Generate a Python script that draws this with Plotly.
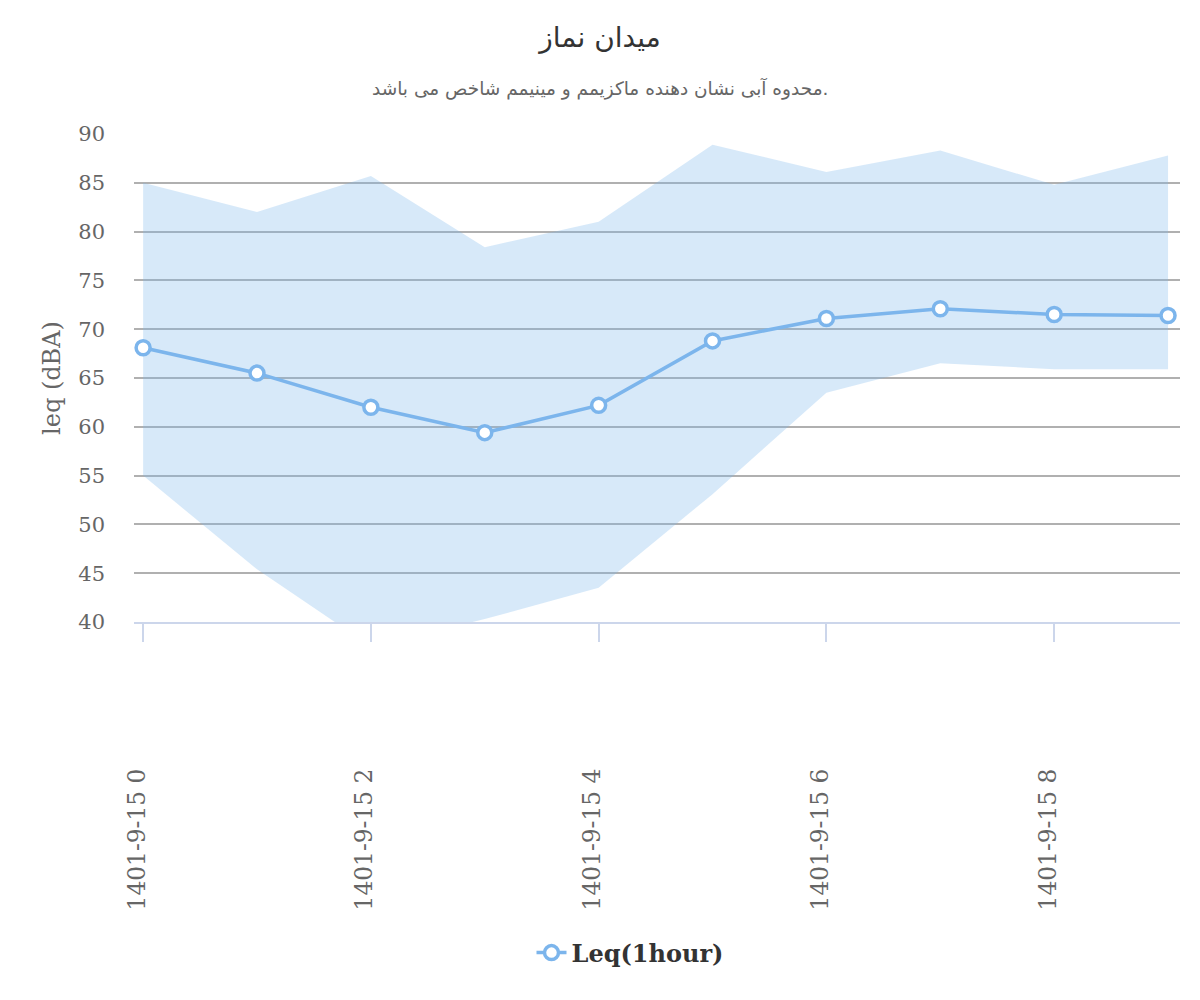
import plotly.graph_objects as go

hours = [0, 1, 2, 3, 4, 5, 6, 7, 8, 9]
leq_values = [68.1, 65.5, 62.0, 59.4, 62.2, 68.8, 71.1, 72.1, 71.5, 71.4]
max_values = [85.0, 82.0, 85.7, 78.4, 81.0, 88.9, 86.1, 88.3, 84.8, 87.8]
min_values = [55.0, 45.4, 37.5, 40.3, 43.5, 53.1, 63.5, 66.5, 65.9, 65.9]
tick_positions = [0, 2, 4, 6, 8]
tick_labels = ["1401-9-15 0", "1401-9-15 2", "1401-9-15 4", "1401-9-15 6", "1401-9-15 8"]

title_text = "میدان نماز"
subtitle_text = "محدوه آبی نشان دهنده ماکزیمم و مینیمم شاخص می باشد."
series_name = "Leq(1hour)"
y_title = "leq (dBA)"

serif = "DejaVu Serif"
sans = "DejaVu Sans"

x_range = [-0.08, 9.105]
label_shift = 0.053  # tick labels sit slightly left of their ticks

fig = go.Figure()

fig.add_trace(go.Scatter(
    x=hours, y=max_values, mode="lines",
    line=dict(width=0, color="rgba(124,181,236,0)"),
    showlegend=False, hoverinfo="skip",
))
fig.add_trace(go.Scatter(
    x=hours, y=min_values, mode="lines",
    line=dict(width=0, color="rgba(124,181,236,0)"),
    fill="tonexty", fillcolor="rgba(124,181,236,0.3)",
    showlegend=False, hoverinfo="skip",
))
fig.add_trace(go.Scatter(
    x=hours, y=leq_values, mode="lines+markers", name=series_name,
    line=dict(color="#7cb5ec", width=3.5),
    marker=dict(symbol="circle", size=14, color="#ffffff",
                line=dict(color="#7cb5ec", width=3.5)),
))
# invisible trace carrying the shifted label axis
fig.add_trace(go.Scatter(
    x=[tick_positions[0]], y=[leq_values[0]], xaxis="x2", mode="markers",
    marker=dict(opacity=0), showlegend=False, hoverinfo="skip",
))

fig.update_layout(
    width=1200, height=1000,
    margin=dict(l=134, r=20, t=134, b=378),
    paper_bgcolor="#ffffff", plot_bgcolor="#ffffff",
    title=dict(text=title_text, x=0.5, xanchor="center", xref="container",
               y=0.963, yanchor="middle", yref="container",
               font=dict(family=sans, size=28, color="#333333")),
    annotations=[dict(
        text=subtitle_text, xref="paper", yref="paper",
        x=(600 - 134) / 1046, y=(622 - 88) / 488,
        xanchor="center", yanchor="middle", showarrow=False,
        font=dict(family=sans, size=18.5, color="#666666"),
    )],
    showlegend=True,
    legend=dict(orientation="h", xref="container", yref="container",
                x=0.525, xanchor="center", y=0.047, yanchor="middle",
                font=dict(family=serif, size=24, color="#333333", weight="bold"),
                bgcolor="rgba(0,0,0,0)"),
    xaxis=dict(
        range=x_range, tickmode="array",
        tickvals=tick_positions, ticktext=[""] * len(tick_positions),
        ticks="outside", ticklen=18, tickwidth=1.5,
        tickcolor="#ccd6eb", showline=True, linecolor="#ccd6eb", linewidth=1.5,
        showgrid=False, zeroline=False,
    ),
    xaxis2=dict(
        overlaying="x", side="bottom",
        range=[x_range[0] + label_shift, x_range[1] + label_shift],
        tickmode="array", tickvals=tick_positions, ticktext=tick_labels,
        tickangle=-90, ticks="", showline=False, showgrid=False, zeroline=False,
        ticklabelstandoff=141,
        tickfont=dict(family=serif, size=23.3, color="#666666"),
    ),
    yaxis=dict(
        range=[40, 90], tickmode="linear", tick0=40, dtick=5,
        showgrid=True, gridcolor="#b0b0b0", gridwidth=1.6,
        zeroline=False, showline=False, ticks="",
        ticklabelstandoff=28,
        tickfont=dict(family=serif, size=21, color="#666666"),
        title=dict(text=y_title, standoff=10,
                   font=dict(family=serif, size=24, color="#666666")),
    ),
)

fig.write_html("out.html")
